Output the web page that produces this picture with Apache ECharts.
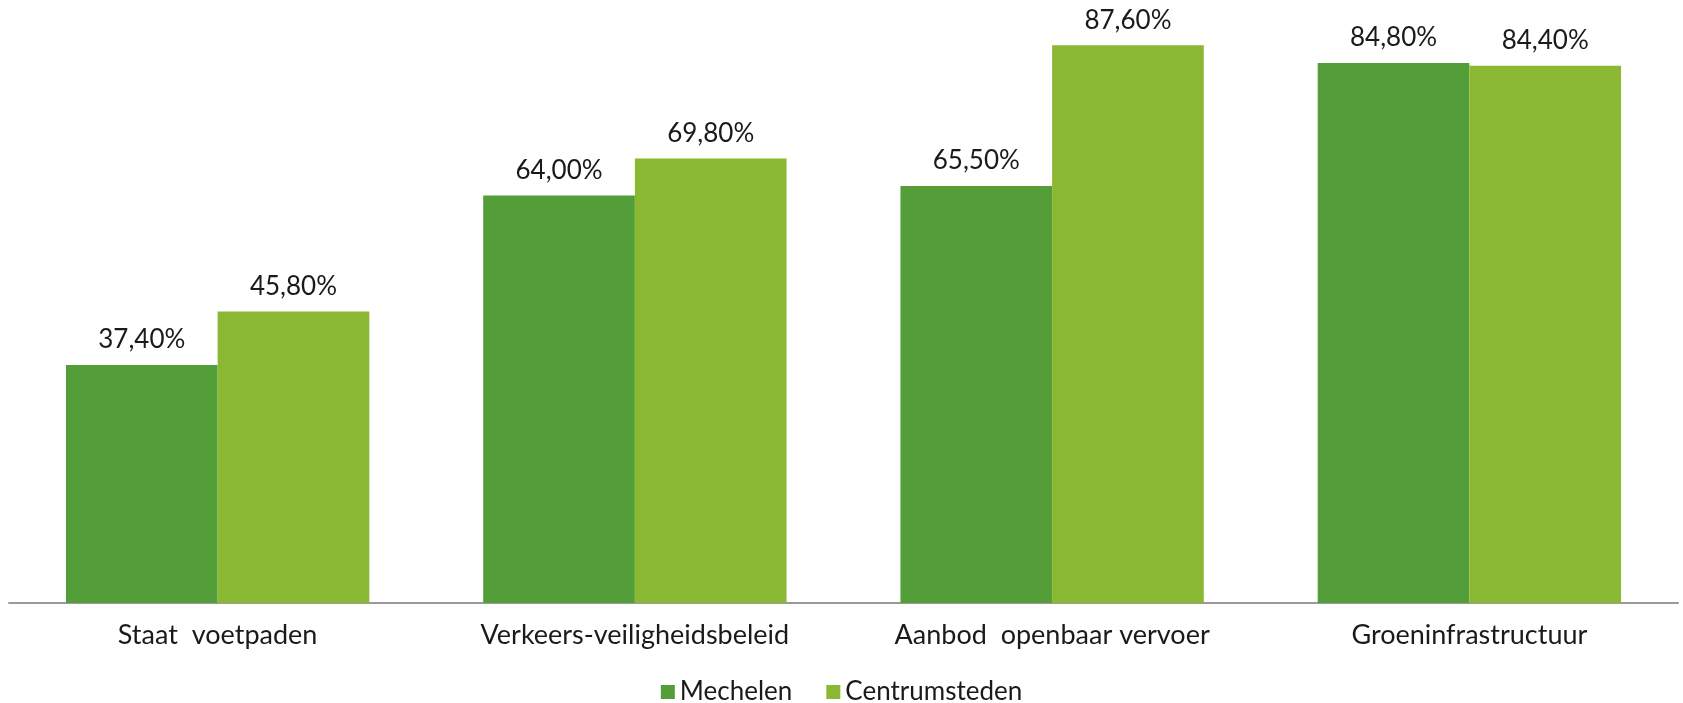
<!DOCTYPE html>
<html>
<head>
<meta charset="utf-8">
<script src="https://cdn.jsdelivr.net/npm/echarts@6/dist/echarts.min.js"></script>
<style>
html,body{margin:0;padding:0;background:#fff;}
#chart{width:1683px;height:703px;}
</style>
</head>
<body>
<div id="chart"></div>
<script>
const categories = ['Staat  voetpaden', 'Verkeers-veiligheidsbeleid', 'Aanbod  openbaar vervoer', 'Groeninfrastructuur'];
const mechelen = [37.4, 64.0, 65.5, 84.8];
const centrumsteden = [45.8, 69.8, 87.6, 84.4];
const seriesNames = ['Mechelen', 'Centrumsteden'];

const fmt = p => p.value.toFixed(2).replace('.', ',') + '%';
const font = 'Lato, "Open Sans", sans-serif';

const chart = echarts.init(document.getElementById('chart'));
chart.setOption({
  animation: false,
  textStyle: { fontFamily: font },
  grid: { left: 9, right: 5, top: 30, bottom: 100, containLabel: false },
  legend: {
    data: seriesNames,
    top: 674,
    left: 'center',
    itemWidth: 14,
    itemHeight: 14,
    itemGap: 34,
    icon: 'rect',
    textStyle: { fontFamily: font, fontSize: 26, color: '#1a1a1a' }
  },
  xAxis: {
    type: 'category',
    data: categories,
    axisLine: { lineStyle: { color: '#9a9a9a', width: 2 } },
    axisTick: { show: false },
    axisLabel: { fontFamily: font, fontSize: 27, color: '#1a1a1a', margin: 19 }
  },
  yAxis: {
    type: 'value',
    min: 0,
    max: 90,
    show: false
  },
  series: [
    {
      name: seriesNames[0],
      type: 'bar',
      data: mechelen,
      barGap: '0%',
      barCategoryGap: '27.3%',
      itemStyle: { color: '#549E39' },
      label: { show: true, position: 'top', distance: 12, formatter: fmt, fontFamily: font, fontSize: 26, color: '#1a1a1a' }
    },
    {
      name: seriesNames[1],
      type: 'bar',
      data: centrumsteden,
      barGap: '0%',
      barCategoryGap: '27.3%',
      itemStyle: { color: '#8AB833' },
      label: { show: true, position: 'top', distance: 12, formatter: fmt, fontFamily: font, fontSize: 26, color: '#1a1a1a' }
    }
  ]
});
</script>
</body>
</html>
